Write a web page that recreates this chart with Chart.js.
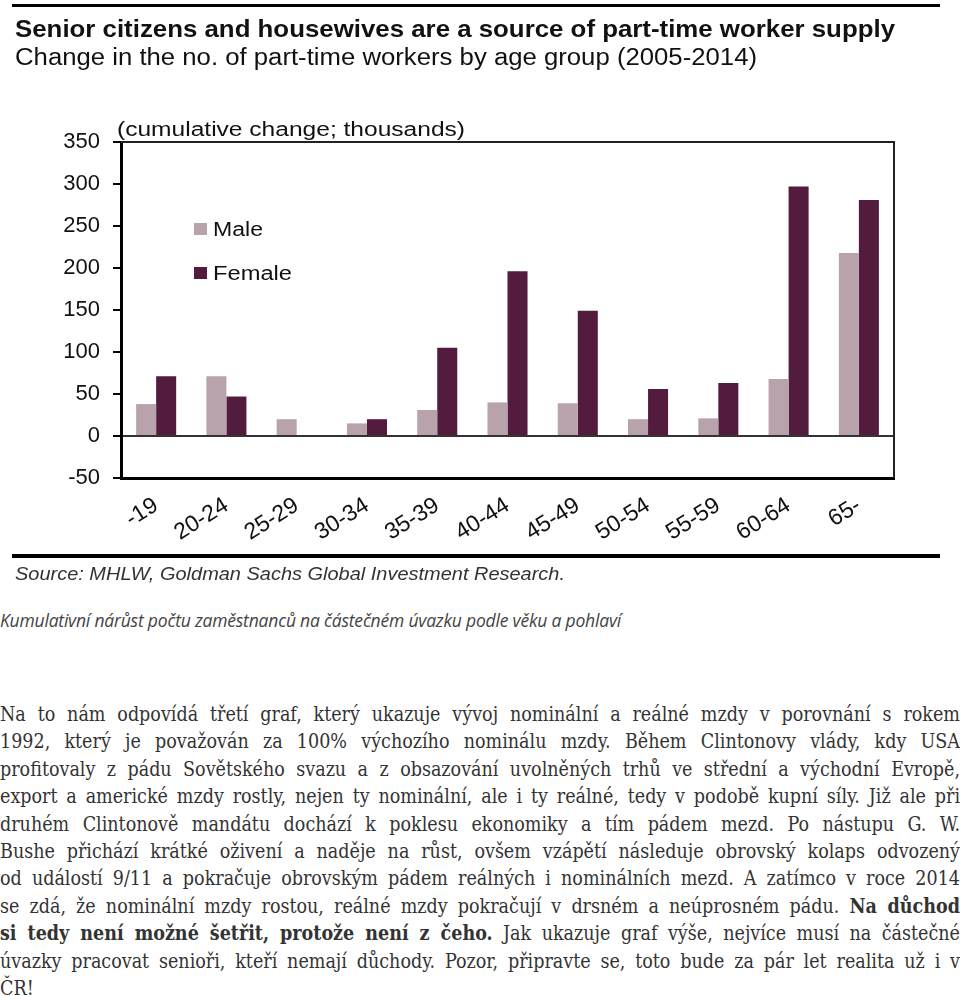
<!DOCTYPE html>
<html lang="cs">
<head>
    <meta charset="UTF-8">
    <title>Senior citizens and housewives - part-time workers</title>
    <script src="https://cdn.jsdelivr.net/npm/chart.js@4.4.1/dist/chart.umd.min.js"></script>
    <style>
        body { margin: 0; background: #fff; width: 960px; }
        .graf { position: relative; width: 960px; height: 590px; }
        .popisek {
            font-family: "Open Sans", sans-serif; font-style: italic; font-size: 17.5px;
            color: #444; margin: 20px 0 0 0; line-height: 20px; letter-spacing: -0.2px;
        }
        .clanek {
            font-family: "DejaVu Serif Condensed", "DejaVu Serif", serif; font-size: 19.5px;
            color: #333; line-height: 27.4px; margin: 71px 0 0 0;
        }
        .clanek span { display: block; text-align: justify; text-align-last: justify; white-space: nowrap; }
        .clanek span.posledni { text-align-last: left; }
    </style>
</head>
<body>
    <div class="graf"><canvas id="castecneUvazky"></canvas></div>
    <p class="popisek">Kumulativní nárůst počtu zaměstnanců na částečném úvazku podle věku a pohlaví</p>
    <div class="clanek">
        <span>Na to nám odpovídá třetí graf, který ukazuje vývoj nominální a reálné mzdy v porovnání s rokem</span>
        <span>1992, který je považován za 100% výchozího nominálu mzdy. Během Clintonovy vlády, kdy USA</span>
        <span>profitovaly z pádu Sovětského svazu a z obsazování uvolněných trhů ve střední a východní Evropě,</span>
        <span>export a americké mzdy rostly, nejen ty nominální, ale i ty reálné, tedy v podobě kupní síly. Již ale při</span>
        <span>druhém Clintonově mandátu dochází k poklesu ekonomiky a tím pádem mezd. Po nástupu G. W.</span>
        <span>Bushe přichází krátké oživení a naděje na růst, ovšem vzápětí následuje obrovský kolaps odvozený</span>
        <span>od událostí 9/11 a pokračuje obrovským pádem reálných i nominálních mezd. A zatímco v roce 2014</span>
        <span>se zdá, že nominální mzdy rostou, reálné mzdy pokračují v drsném a neúprosném pádu. <b>Na důchod</b></span>
        <span><b>si tedy není možné šetřit, protože není z čeho.</b> Jak ukazuje graf výše, nejvíce musí na částečné</span>
        <span>úvazky pracovat senioři, kteří nemají důchody. Pozor, připravte se, toto bude za pár let realita už i v</span>
        <span class="posledni">ČR!</span>
    </div>
    <script>
        // data (tisíce)
        const vekoveSkupiny = ['-19', '20-24', '25-29', '30-34', '35-39', '40-44', '45-49', '50-54', '55-59', '60-64', '65-'];
        const muzi = [38, 71, 20, 15, 31, 40, 39, 20, 21, 68, 218];
        const zeny = [71, 47, 0, 20, 105, 196, 149, 56, 63, 297, 281];
        const hodnotyOsyY = [-50, 0, 50, 100, 150, 200, 250, 300, 350];

        const nadpis = 'Senior citizens and housewives are a source of part-time worker supply';
        const podnadpis = 'Change in the no. of part-time workers by age group (2005-2014)';
        const jednotky = '(cumulative change; thousands)';
        const zdroj = 'Source: MHLW, Goldman Sachs Global Investment Research.';

        // text roztažený na danou šířku (obrázek je vodorovně natažený)
        function textNaSirku(ctx, text, x, y, sirka) {
            const w = ctx.measureText(text).width;
            ctx.save();
            ctx.translate(x, y);
            ctx.scale(sirka / w, 1);
            ctx.fillText(text, 0, 0);
            ctx.restore();
        }

        const ramecek = {
            id: 'ramecek',
            afterDraw(chart) {
                const ctx = chart.ctx;
                const a = chart.chartArea;
                ctx.save();
                // horní a pravá hrana
                ctx.strokeStyle = '#222';
                ctx.lineWidth = 2;
                ctx.beginPath();
                ctx.moveTo(a.left, a.top);
                ctx.lineTo(a.right, a.top);
                ctx.lineTo(a.right, a.bottom);
                ctx.stroke();

                // vodorovné čáry nad a pod grafem
                ctx.fillStyle = '#000';
                ctx.fillRect(12, 4, 928, 3);
                ctx.fillRect(12, 554, 928, 4);

                ctx.fillStyle = '#111';
                ctx.textBaseline = 'alphabetic';
                ctx.font = 'bold 24px "Liberation Sans Narrow", "Liberation Sans", sans-serif';
                textNaSirku(ctx, nadpis, 15, 37, 880);
                ctx.font = '23px "Liberation Sans Narrow", "Liberation Sans", sans-serif';
                textNaSirku(ctx, podnadpis, 15, 65, 742);
                ctx.font = '20px "Liberation Sans", sans-serif';
                textNaSirku(ctx, jednotky, 117, 136, 348);
                ctx.fillStyle = '#333';
                ctx.font = 'italic 19px "Liberation Sans Narrow", "Liberation Sans", sans-serif';
                textNaSirku(ctx, zdroj, 15, 580, 550);

                // legenda
                const polozky = chart.data.datasets;
                ctx.font = '20px "Liberation Sans", sans-serif';
                polozky.forEach((ds, i) => {
                    const y = 223 + i * 44;
                    ctx.fillStyle = ds.backgroundColor;
                    ctx.fillRect(194, y, 13, 12);
                    ctx.fillStyle = '#111';
                    textNaSirku(ctx, ds.label, 213, y + 13, i === 0 ? 50 : 79);
                });
                ctx.restore();
            }
        };

        new Chart(document.getElementById('castecneUvazky'), {
            type: 'bar',
            data: {
                labels: vekoveSkupiny,
                datasets: [
                    { label: 'Male', data: muzi, backgroundColor: '#b8a3ad', borderWidth: 0 },
                    { label: 'Female', data: zeny, backgroundColor: '#531b3d', borderWidth: 0 }
                ]
            },
            options: {
                responsive: true,
                maintainAspectRatio: false,
                animation: false,
                events: [],
                categoryPercentage: 0.57,
                barPercentage: 1.0,
                layout: { padding: { left: 0, right: 66, top: 142, bottom: 32 } },
                plugins: {
                    legend: { display: false },
                    tooltip: { enabled: false }
                },
                scales: {
                    x: {
                        afterFit: s => { s.height = 80; },
                        grid: { color: 'rgba(0,0,0,0)', drawTicks: false },
                        border: { color: '#000', width: 3 },
                        ticks: {
                            color: '#111',
                            font: { family: '"Liberation Sans", sans-serif', size: 23 },
                            maxRotation: 32, minRotation: 32,
                            padding: 14
                        }
                    },
                    y: {
                        min: hodnotyOsyY[0],
                        max: hodnotyOsyY[hodnotyOsyY.length - 1],
                        afterFit: s => { s.width = 121; },
                        afterBuildTicks: s => { s.ticks = hodnotyOsyY.map(v => ({ value: v })); },
                        grid: {
                            color: c => (c.tick && c.tick.value === 0 ? '#333' : 'rgba(0,0,0,0)'),
                            lineWidth: 2,
                            tickColor: '#000',
                            tickLength: 8,
                            tickWidth: 2
                        },
                        border: { color: '#000', width: 3 },
                        ticks: {
                            color: '#111',
                            font: { family: '"Liberation Sans", sans-serif', size: 22 },
                            padding: 13
                        }
                    }
                }
            },
            plugins: [ramecek]
        });
    </script>
</body>
</html>
